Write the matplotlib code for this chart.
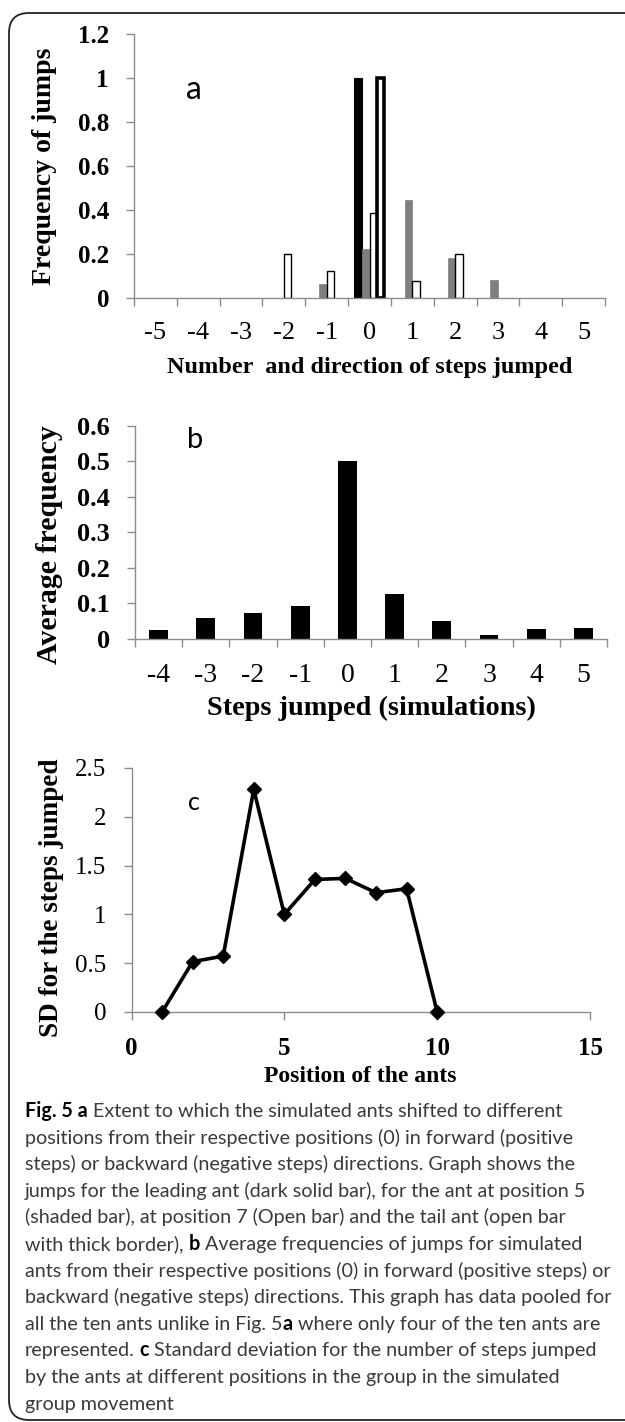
import matplotlib
matplotlib.use('Agg')
import matplotlib.pyplot as plt
import numpy as np
from matplotlib.patches import FancyBboxPatch
from matplotlib.transforms import IdentityTransform

# panel a: jumps of four ants
steps_a = [-5, -4, -3, -2, -1, 0, 1, 2, 3, 4, 5]
lead_ant = [0, 0, 0, 0, 0, 1.0, 0, 0, 0, 0, 0]
pos5_ant = [0, 0, 0, 0, 0.063, 0.224, 0.444, 0.182, 0.08, 0, 0]
pos7_ant = [0, 0, 0, 0.2, 0.123, 0.388, 0.077, 0.2, 0, 0, 0]
tail_ant = [0, 0, 0, 0, 0, 1.0, 0, 0, 0, 0, 0]

# panel b: pooled simulations
steps_b = [-4, -3, -2, -1, 0, 1, 2, 3, 4, 5]
avg_freq = [0.025, 0.06, 0.074, 0.093, 0.5, 0.128, 0.052, 0.012, 0.028, 0.031]

# panel c: SD per position
ant_pos = [1, 2, 3, 4, 5, 6, 7, 8, 9, 10]
sd_steps = [0, 0.515, 0.573, 2.28, 1.0, 1.358, 1.369, 1.222, 1.263, 0]

caption = [
    [("Fig. 5 a", True), ("Extent to which the simulated ants shifted to different", False)],
    [("positions from their respective positions (0) in forward (positive", False)],
    [("steps) or backward (negative steps) directions. Graph shows the", False)],
    [("jumps for the leading ant (dark solid bar), for the ant at position 5", False)],
    [("(shaded bar), at position 7 (Open bar) and the tail ant (open bar", False)],
    [("with thick border),", False), ("b", True), ("Average frequencies of jumps for simulated", False)],
    [("ants from their respective positions (0) in forward (positive steps) or", False)],
    [("backward (negative steps) directions. This graph has data pooled for", False)],
    [("all the ten ants unlike in Fig. 5", False), ("a", True, True), ("where only four of the ten ants are", False)],
    [("represented.", False), ("c", True), ("Standard deviation for the number of steps jumped", False)],
    [("by the ants at different positions in the group in the simulated", False)],
    [("group movement", False)],
]

W, H = 625, 1422
SERIF = 'Liberation Serif'
SANS = 'Lato'
AXCOL = '#8c8c8c'

fig = plt.figure(figsize=(W / 100, H / 100), dpi=100)
fig.set_facecolor('white')

# rounded frame, open to the right and bottom
frame = FancyBboxPatch((9, 2), 700, H - 13 - 2, boxstyle='round,pad=0,rounding_size=20',
                       transform=IdentityTransform(), facecolor='none',
                       edgecolor='#222222', linewidth=1.3)
fig.add_artist(frame)


def add_ax(left, top, right, bottom):
    return fig.add_axes([left / W, 1 - bottom / H, (right - left) / W, (bottom - top) / H])


def style_ax(ax, ybold=True, xbold=False, size=18):
    for s in ['top', 'right']:
        ax.spines[s].set_visible(False)
    for s in ['left', 'bottom']:
        ax.spines[s].set_color(AXCOL)
        ax.spines[s].set_linewidth(1.0)
    ax.tick_params(which='major', direction='out', length=6, color=AXCOL, width=1.0,
                   labelsize=size, pad=12)
    for lab in ax.get_yticklabels():
        lab.set_fontfamily(SERIF)
        lab.set_fontweight('bold' if ybold else 'normal')
    for lab in ax.get_xticklabels(which='both'):
        lab.set_fontfamily(SERIF)
        lab.set_fontweight('bold' if xbold else 'normal')
    ax.set_facecolor('none')


def place_labels(ax, box, xl_y, yl_x, yl_y=None):
    left, top, right, bottom = box
    ax.xaxis.set_label_coords(0.5, (bottom - xl_y) / (bottom - top))
    ax.xaxis.label.set_va('center')
    yc = 0.5 if yl_y is None else (bottom - yl_y) / (bottom - top)
    ax.yaxis.set_label_coords((yl_x - left) / (right - left), yc)
    ax.yaxis.label.set_va('center')


def edge_w(vals, lw):
    # no outline for empty bars, so zero values leave no mark
    return [lw if v > 0 else 0 for v in vals]


# ---- panel a ----
box_a = (134, 34, 605, 298)
ax1 = add_ax(*box_a)
xa = np.arange(len(steps_a))
bw = 0.178
ax1.bar(xa - 1.5 * bw, lead_ant, bw, color='black', edgecolor='black',
        linewidth=edge_w(lead_ant, 0.8))
ax1.bar(xa - 0.5 * bw, pos5_ant, bw, color='#7f7f7f', edgecolor='#7f7f7f',
        linewidth=edge_w(pos5_ant, 0.5))
ax1.bar(xa + 0.5 * bw, pos7_ant, bw, color='white', edgecolor='black',
        linewidth=edge_w(pos7_ant, 1.0))
ax1.bar(xa + 1.5 * bw - 0.01, tail_ant, bw * 0.9, color='white', edgecolor='black',
        linewidth=edge_w(tail_ant, 2.6))
ax1.set_xlim(-0.5, len(steps_a) - 0.5)
ax1.set_ylim(0, 1.2)
ax1.set_yticks([0, 0.2, 0.4, 0.6, 0.8, 1.0, 1.2])
ax1.set_yticklabels(['0', '0.2', '0.4', '0.6', '0.8', '1', '1.2'])
ax1.set_xticks(np.arange(len(steps_a) + 1) - 0.5)
ax1.set_xticklabels([])
ax1.set_xticks(xa, minor=True)
ax1.set_xticklabels([str(s) for s in steps_a], minor=True)
ax1.tick_params(axis='x', which='minor', length=0, labelsize=19, pad=17)
style_ax(ax1)
ax1.set_xlabel('Number  and direction of steps jumped', fontfamily=SERIF,
               fontweight='bold', fontsize=17.5)
ax1.set_ylabel('Frequency of jumps', fontfamily=SERIF, fontweight='bold', fontsize=20)
place_labels(ax1, box_a, 367, 45)
ax1.text((194 - 134) / 471, (298 - 90) / 264, 'a', transform=ax1.transAxes,
         fontfamily=SANS, fontsize=23, ha='center', va='center')

# ---- panel b ----
box_b = (135, 426, 607, 639)
ax2 = add_ax(*box_b)
xb = np.arange(len(steps_b))
ax2.bar(xb, avg_freq, 0.4, color='black')
ax2.set_xlim(-0.5, len(steps_b) - 0.5)
ax2.set_ylim(0, 0.6)
ax2.set_yticks([0, 0.1, 0.2, 0.3, 0.4, 0.5, 0.6])
ax2.set_yticklabels(['0', '0.1', '0.2', '0.3', '0.4', '0.5', '0.6'])
ax2.set_xticks(np.arange(len(steps_b) + 1) - 0.5)
ax2.set_xticklabels([])
ax2.set_xticks(xb, minor=True)
ax2.set_xticklabels([str(s) for s in steps_b], minor=True)
ax2.tick_params(axis='x', which='minor', length=0, labelsize=20, pad=17)
style_ax(ax2, size=19)
ax2.set_xlabel('Steps jumped (simulations)', fontfamily=SERIF, fontweight='bold', fontsize=20.3)
ax2.set_ylabel('Average frequency', fontfamily=SERIF, fontweight='bold', fontsize=21.5)
place_labels(ax2, box_b, 708, 50, 545)
ax2.text((195 - 135) / 472, (639 - 440) / 213, 'b', transform=ax2.transAxes,
         fontfamily=SANS, fontsize=21, ha='center', va='center')

# ---- panel c ----
box_c = (131.5, 768, 590, 1012)
ax3 = add_ax(*box_c)
ax3.plot(ant_pos, sd_steps, color='black', linewidth=2.6, marker='D', markersize=7.5,
         clip_on=False, zorder=3)
ax3.set_xlim(0, 15)
ax3.set_ylim(0, 2.5)
ax3.set_xticks([0, 5, 10, 15])
ax3.set_yticks([0, 0.5, 1, 1.5, 2, 2.5])
ax3.set_yticklabels(['0', '0.5', '1', '1.5', '2', '2.5'])
style_ax(ax3, ybold=False, xbold=True, size=18)
ax3.set_xlabel('Position of the ants', fontfamily=SERIF, fontweight='bold', fontsize=17)
ax3.set_ylabel('SD for the steps jumped', fontfamily=SERIF, fontweight='bold', fontsize=19.5)
place_labels(ax3, box_c, 1077, 52, 898)
ax3.text((194 - 131.5) / 458.5, (1012 - 803) / 244, 'c', transform=ax3.transAxes,
         fontfamily=SANS, fontsize=18, ha='center', va='center')

# ---- caption ----
renderer = fig.canvas.get_renderer()


def text_w(s, size, weight):
    t = fig.text(0, 0, s, fontfamily=SANS, fontsize=size, fontweight=weight)
    w = t.get_window_extent(renderer).width
    t.remove()
    return w


# size the caption so the widest line fits the frame like the original
probe = "backward (negative steps) directions. This graph has data pooled for"
cap_size = 12 * 585 / text_w(probe, 12, 'normal')
space_w = text_w('x x', cap_size, 'normal') - text_w('xx', cap_size, 'normal')

for i, parts in enumerate(caption):
    x = 25.0
    base = 1117 + i * 26.6
    for j, part in enumerate(parts):
        txt, bold = part[0], part[1]
        glued = len(part) > 2
        if j > 0 and not glued:
            x += space_w
        t = fig.text(x / W, 1 - base / H, txt, fontfamily=SANS, fontsize=cap_size,
                     fontweight='bold' if bold else 'normal',
                     color='black' if bold else '#3a3a3a', va='baseline', ha='left')
        x += t.get_window_extent(renderer).width

fig.savefig('out.png', dpi=100, facecolor='white')
